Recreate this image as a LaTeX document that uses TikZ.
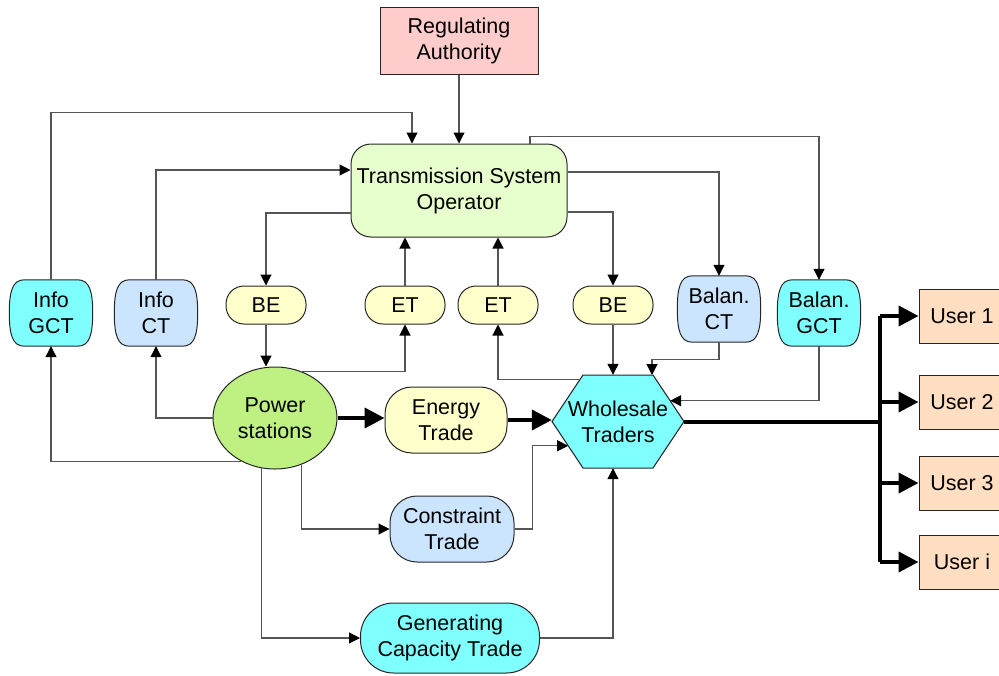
\documentclass[tikz,border=0pt]{standalone}
\usepackage{fontspec}
\setmainfont{Liberation Sans}
\usetikzlibrary{arrows.meta,shapes.geometric,calc,backgrounds}
\definecolor{rapink}{HTML}{FFCCCC}
\definecolor{tsogreen}{HTML}{E6FFCC}
\definecolor{cyanbox}{HTML}{80FFFF}
\definecolor{bluebox}{HTML}{CCE5FF}
\definecolor{yellowbox}{HTML}{FFFFCC}
\definecolor{psgreen}{HTML}{BFF082}
\definecolor{userbox}{HTML}{FFDEC2}
\definecolor{linegray}{HTML}{555555}
% outline with flat top and bottom and outward-bowed sides
\newcommand\bowbox[2]{%
  \begin{pgfonlayer}{background}
  \draw[box, fill=#2]
    ([xshift=15pt]#1.north west) -- ([xshift=-15pt]#1.north east)
    .. controls ([xshift=-3pt]#1.north east) and ([yshift=-12pt]#1.north east) .. (#1.east)
    .. controls ([yshift=12pt]#1.south east) and ([xshift=-3pt]#1.south east) .. ([xshift=-15pt]#1.south east)
    -- ([xshift=15pt]#1.south west)
    .. controls ([xshift=3pt]#1.south west) and ([yshift=12pt]#1.south west) .. (#1.west)
    .. controls ([yshift=-12pt]#1.north west) and ([xshift=3pt]#1.north west) .. cycle;
  \end{pgfonlayer}}
\begin{document}
\begin{tikzpicture}[x=1pt,y=-1pt,
  font=\fontsize{21.5}{26}\selectfont,
  box/.style={draw=black!85, line width=1pt, align=center, inner sep=0pt, text=black},
  pill/.style={box, fill=yellowbox, rounded corners=18pt, minimum width=80pt, minimum height=38pt},
  tall/.style={align=center, inner sep=0pt, minimum width=83pt, minimum height=66pt},
  trade/.style={box, rounded corners=27pt, minimum height=66pt},
  user/.style={box, fill=userbox, minimum width=86pt, minimum height=54pt},
  link/.style={draw=linegray, line width=1.1pt},
  conn/.style={link, -{Triangle[length=11pt,width=11pt,color=black]}},
  heavy/.style={draw=black, line width=4pt, -{Triangle[length=20pt,width=20pt]}},
  bar/.style={draw=black, line width=4pt},
]
\useasboundingbox (0,0) rectangle (999,675);

% --- nodes ---
\node[box, fill=rapink, minimum width=158pt, minimum height=67pt] (ra) at (459,40.5) {Regulating\\Authority};
\node[box, fill=tsogreen, rounded corners=20pt, minimum width=216pt, minimum height=93pt] (tso) at (459,190.5) {Transmission System\\Operator};

\node[tall] (igct) at (51,313) {Info\\GCT};
\node[tall] (ict) at (156,313) {Info\\CT};
\node[pill] (be1) at (266,305) {BE};
\node[pill] (et1) at (405,305) {ET};
\node[pill] (et2) at (498,305) {ET};
\node[pill] (be2) at (613,305) {BE};
\node[tall] (bct) at (719,309) {Balan.\\CT};
\node[tall] (bgct) at (819,313) {Balan.\\GCT};
\bowbox{igct}{cyanbox}
\bowbox{ict}{bluebox}
\bowbox{bct}{bluebox}
\bowbox{bgct}{cyanbox}

\node[box, ellipse, fill=psgreen, minimum width=124pt, minimum height=102pt] (ps) at (275,418) {Power\\stations};
\node[trade, fill=yellowbox, minimum width=122pt] (et) at (446,420) {Energy\\Trade};
\node[trade, fill=bluebox, minimum width=124pt] (ct) at (452,529) {Constraint\\Trade};
\node[trade, fill=cyanbox, rounded corners=33pt, minimum width=179pt, minimum height=70pt] (gct) at (450,638) {Generating\\Capacity Trade};

% Wholesale traders hexagon
\coordinate (wtW) at (552,421.5);
\coordinate (wtNW) at (583,375);
\coordinate (wtNE) at (653,375);
\coordinate (wtE) at (684,421.5);
\coordinate (wtSE) at (653,468);
\coordinate (wtSW) at (583,468);
\draw[box, fill=cyanbox] (wtW) -- (wtNW) -- (wtNE) -- (wtE) -- (wtSE) -- (wtSW) -- cycle;
\node[align=center, inner sep=0pt, minimum width=132pt, minimum height=93pt] (wt) at (618,421.5) {Wholesale\\Traders};

\node[user] (u1) at (962,316) {User 1};
\node[user] (u2) at (962,402) {User 2};
\node[user] (u3) at (962,483) {User 3};
\node[user] (ui) at (962,562) {User i};

% --- connectors around the operator ---
\draw[conn] (ra) -- (tso);
\draw[conn] (igct.north) |- ([xshift=-47pt,yshift=31pt]tso.north) -- ([xshift=-47pt]tso.north);
\draw[conn] (ict.north) |- ([yshift=20.5pt]tso.west);
\draw[conn] ([yshift=-22.5pt]tso.west) -| (be1.north);
\draw[conn] (et1.north) -- (et1.north |- tso.south);
\draw[conn] (et2.north) -- (et2.north |- tso.south);
\draw[conn] ([yshift=-21.5pt]tso.east) -| (be2.north);
\draw[conn] ([yshift=18.5pt]tso.east) -| (bct.north);
\draw[conn] ([xshift=71pt]tso.north) -- ++(0,-7) -| (bgct.north);

% --- connectors around the power stations ---
\draw[conn] (be1.south) -- (be1.south |- ps.north);
\draw[conn] (ps.60) -| (et1.south);
\draw[conn] (ps.west) -| (ict.south);
\draw[conn] (ps.232) -| (igct.south);
\draw[conn] (ps.300) |- (ct.west);
\draw[conn] (ps.255) |- (gct.west);

% --- connectors into the wholesale traders ---
\draw[conn] ($(wtW)!0.9!(wtNW)$) -| (et2.south);
\draw[conn] (be2.south) -- (be2.south |- wt.north);
\draw[conn] (bct.south) -- ++(0,17) -| ([xshift=-1pt]wtNE);
\draw[conn] (bgct.south) |- ($(wtE)!0.447!(wtNE)$);
\draw[conn] (ct.east) -- ++(18,0) |- ($(wtW)!0.522!(wtSW)$);
\draw[conn] (gct.east) -| ([xshift=-5pt]wt.south);

% --- energy flow ---
\draw[heavy] (ps.east) -- (ps.east -| et.west);
\draw[heavy] (et.east) -- (et.east -| wt.west);
\coordinate (bus) at (880,421.5);
\draw[bar] (wt.east) -- ([xshift=2pt]bus);
\draw[bar] (bus |- u1) -- (bus |- ui);
\draw[heavy] (bus |- u1) -- (u1.west);
\draw[heavy] (bus |- u2) -- (u2.west);
\draw[heavy] (bus |- u3) -- (u3.west);
\draw[heavy] (bus |- ui) -- (ui.west);
\end{tikzpicture}
\end{document}
